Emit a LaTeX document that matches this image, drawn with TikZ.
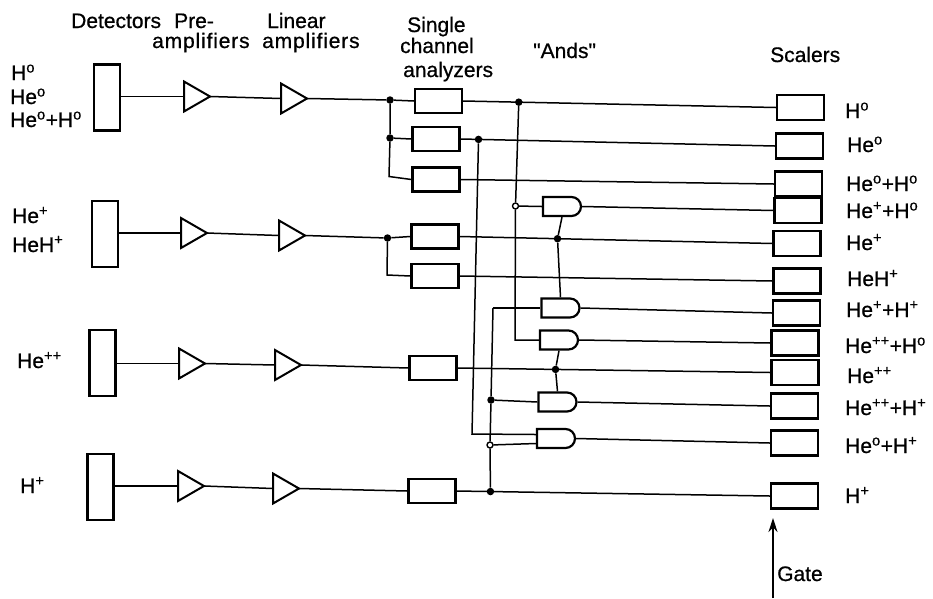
\documentclass[tikz,border=0pt]{standalone}
\usepackage{fontspec}
\newfontfamily\lblfont{Liberation Sans}
\usetikzlibrary{shapes.geometric, shapes.misc, arrows.meta}

\begin{document}
\begin{tikzpicture}[
    x=1pt, y=-1pt,
    wire/.style={line width=1.5pt},
    arrow/.style={-{Stealth[length=14pt, width=9pt]}, line width=1.5pt},
    box/.style={rectangle, draw, line width=2.2pt, inner sep=0pt},
    det/.style={box, minimum width=26pt, minimum height=66pt},
    sca/.style={box, minimum width=47pt, minimum height=24pt},
    scaler/.style={box, minimum width=47pt, minimum height=25pt},
    amp/.style={isosceles triangle, isosceles triangle stretches, draw, line width=2pt, inner sep=0pt, outer sep=0pt, anchor=west, minimum width=30pt, minimum height=26pt},
    andg/.style={rounded rectangle, rounded rectangle left arc=none, draw, line width=2.2pt, inner sep=0pt, minimum width=38pt, minimum height=19pt},
    dot/.style={circle, fill=black, inner sep=0pt, minimum size=7.5pt},
    odot/.style={circle, draw, line width=1.4pt, inner sep=0pt, minimum size=6pt},
    lbl/.style={anchor=base west, inner sep=0pt, font=\lblfont\fontsize{21}{24}\selectfont\addfontfeature{FakeBold=0.7}},
    widelbl/.style={lbl, font=\lblfont\fontsize{21}{24}\selectfont\addfontfeature{FakeBold=0.7, LetterSpace=4}}
]
\useasboundingbox (0,0) rectangle (933,598);

% Detectors
\node[det] (det_a) at (107,97.5) {};
\node[det] (det_b) at (105,234) {};
\node[det] (det_c) at (102.5,363) {};
\node[det] (det_d) at (100.5,487) {};

% Amplifiers
\node[amp] (pre_a) at (184,96.5) {};
\node[amp] (lin_a) at (281,98.5) {};
\node[amp] (pre_b) at (181,233) {};
\node[amp] (lin_b) at (279,235.5) {};
\node[amp] (pre_c) at (179,363.5) {};
\node[amp] (lin_c) at (275,365) {};
\node[amp] (pre_d) at (178,486) {};
\node[amp] (lin_d) at (273,488.5) {};

% Single channel analyzers
\node[sca] (sca_a) at (438.5,101) {};
\node[sca] (sca_b) at (436,139) {};
\node[sca] (sca_c) at (436,179.5) {};
\node[sca] (sca_d) at (435,236.5) {};
\node[sca] (sca_e) at (435,276) {};
\node[sca] (sca_f) at (433,368) {};
\node[sca] (sca_g) at (432,491) {};

% Ands
\node[andg] (and_a) at (562,206.5) {};
\node[andg] (and_b) at (560.5,308) {};
\node[andg] (and_c) at (559,340) {};
\node[andg] (and_d) at (557.5,402) {};
\node[andg] (and_e) at (556,438.5) {};

% Scalers
\node[scaler] (sc_a) at (800.5,107.5) {};
\node[scaler] (sc_b) at (799.5,146) {};
\node[scaler] (sc_c) at (798.5,184) {};
\node[scaler] (sc_d) at (798,210.5) {};
\node[scaler] (sc_e) at (797,243.5) {};
\node[scaler] (sc_f) at (797,281) {};
\node[scaler] (sc_g) at (796.5,313) {};
\node[scaler] (sc_h) at (795,343) {};
\node[scaler] (sc_i) at (795,372.5) {};
\node[scaler] (sc_j) at (794.5,406) {};
\node[scaler] (sc_k) at (794.5,443) {};
\node[scaler] (sc_l) at (794.5,496) {};

% Junctions
\node[dot] (j_a) at (390,100) {};
\node[dot] (j_b) at (390,138) {};
\coordinate (c_a) at (389,176.5);
\node[dot] (j_c) at (387.5,238) {};
\coordinate (c_b) at (387,275);
\path (sca_a.east) -- (sc_a.west) node[dot, pos=0.178] (j_d) {};
\path (sca_b.east) -- (sc_b.west) node[dot, pos=0.057] (j_e) {};
\path (sca_d.east) -- (sc_e.west) node[dot, pos=0.313] (j_f) {};
\path (sca_f.east) -- (sc_i.west) node[dot, pos=0.313] (j_g) {};
\path (sca_g.east) -- (sc_l.west) node[dot, pos=0.108] (j_h) {};
\node[dot] (j_i) at (491,400) {};
\node[odot] (o_a) at (515.5,206) {};
\node[odot] (o_b) at (490,445) {};
\coordinate (c_c) at (515,340);
\coordinate (c_d) at (472,434);
\coordinate (c_e) at (493,308);

% Detector to analyzer
\draw[wire] (pre_a.west -| det_a.east) -- (pre_a.west);
\draw[wire] (pre_a.east) -- (lin_a.west);
\draw[wire] (lin_a.east) -- (j_a) -- (sca_a.west);
\draw[wire] (pre_b.west -| det_b.east) -- (pre_b.west);
\draw[wire] (pre_b.east) -- (lin_b.west);
\draw[wire] (lin_b.east) -- (j_c) -- (sca_d.west);
\draw[wire] (pre_c.west -| det_c.east) -- (pre_c.west);
\draw[wire] (pre_c.east) -- (lin_c.west);
\draw[wire] (lin_c.east) -- (sca_f.west);
\draw[wire] (pre_d.west -| det_d.east) -- (pre_d.west);
\draw[wire] (pre_d.east) -- (lin_d.west);
\draw[wire] (lin_d.east) -- (sca_g.west);
\draw[wire] (j_a) -- (j_b) -- (c_a) -- (sca_c.west);
\draw[wire] (j_b) -- (sca_b.west);
\draw[wire] (j_c) -- (c_b) -- (sca_e.west);

% Analyzer to scaler
\draw[wire] (sca_a.east) -- (sc_a.west);
\draw[wire] (sca_b.east) -- (sc_b.west);
\draw[wire] (sca_c.east) -- (sc_c.west);
\draw[wire] (sca_d.east) -- (sc_e.west);
\draw[wire] (sca_e.east) -- (sc_f.west);
\draw[wire] (sca_f.east) -- (sc_i.west);
\draw[wire] (sca_g.east) -- (sc_l.west);
\draw[wire] (and_a.east) -- (sc_d.west);
\draw[wire] (and_b.east) -- (sc_g.west);
\draw[wire] (and_c.east) -- (sc_h.west);
\draw[wire] (and_d.east) -- (sc_j.west);
\draw[wire] (and_e.east) -- (sc_k.west);

% And inputs
\draw[wire] (j_d) -- (o_a) -- (c_c) -- (and_c.west);
\draw[wire] (o_a) -- (and_a.west);
\draw[wire] (j_e) -- (c_d) -- ([yshift=4pt]and_e.west);
\draw[wire] (c_e) -- (j_i) -- (o_b) -- (j_h);
\draw[wire] (c_e) -- (and_b.west);
\draw[wire] (j_i) -- (and_d.west);
\draw[wire] (o_b) -- ([yshift=-5pt]and_e.west);
\draw[wire] (and_a.south) -- (j_f) -- (and_b.north);
\draw[wire] (and_c.south) -- (j_g) -- (and_d.north);

% Gate
\coordinate (gate_in) at (773,598);
\coordinate (gate_tip) at (773,518);
\draw[arrow] (gate_in) -- (gate_tip);
\node[lbl] (l_gate) at (777,581) {Gate};

% Titles
\node[lbl] (t_det) at (71,28) {Detectors};
\node[lbl] (t_pre) at (174,28) {Pre-};
\node[widelbl] (t_preb) at (152,48) {amplifiers};
\node[lbl] (t_lin) at (267,28) {Linear};
\node[widelbl] (t_linb) at (262,48) {amplifiers};
\node[lbl] (t_sca) at (407,32) {Single};
\node[lbl] (t_scb) at (400,53) {channel};
\node[lbl] (t_scc) at (403,77) {analyzers};
\node[lbl] (t_and) at (533,58) {"Ands"};
\node[lbl] (t_sc) at (770,62) {Scalers};

% Left labels
\node[lbl] (l_a) at (11,80) {H\textsuperscript{o}};
\node[lbl] (l_b) at (10,104) {He\textsuperscript{o}};
\node[lbl] (l_c) at (10,127) {He\textsuperscript{o}+H\textsuperscript{o}};
\node[lbl] (l_d) at (12,223) {He\textsuperscript{+}};
\node[lbl] (l_e) at (12,252) {HeH\textsuperscript{+}};
\node[lbl] (l_f) at (17,368) {He\textsuperscript{++}};
\node[lbl] (l_g) at (20,493) {H\textsuperscript{+}};

% Scaler labels
\node[lbl] (r_a) at (845,118) {H\textsuperscript{o}};
\node[lbl] (r_b) at (847,152) {He\textsuperscript{o}};
\node[lbl] (r_c) at (846,191) {He\textsuperscript{o}+H\textsuperscript{o}};
\node[lbl] (r_d) at (846,218) {He\textsuperscript{+}+H\textsuperscript{o}};
\node[lbl] (r_e) at (846,250) {He\textsuperscript{+}};
\node[lbl] (r_f) at (847,286) {HeH\textsuperscript{+}};
\node[lbl] (r_g) at (846,317) {He\textsuperscript{+}+H\textsuperscript{+}};
\node[lbl] (r_h) at (845,353) {He\textsuperscript{++}+H\textsuperscript{o}};
\node[lbl] (r_i) at (847,383) {He\textsuperscript{++}};
\node[lbl] (r_j) at (845,415) {He\textsuperscript{++}+H\textsuperscript{+}};
\node[lbl] (r_k) at (845,453) {He\textsuperscript{o}+H\textsuperscript{+}};
\node[lbl] (r_l) at (845,503) {H\textsuperscript{+}};

\end{tikzpicture}
\end{document}
